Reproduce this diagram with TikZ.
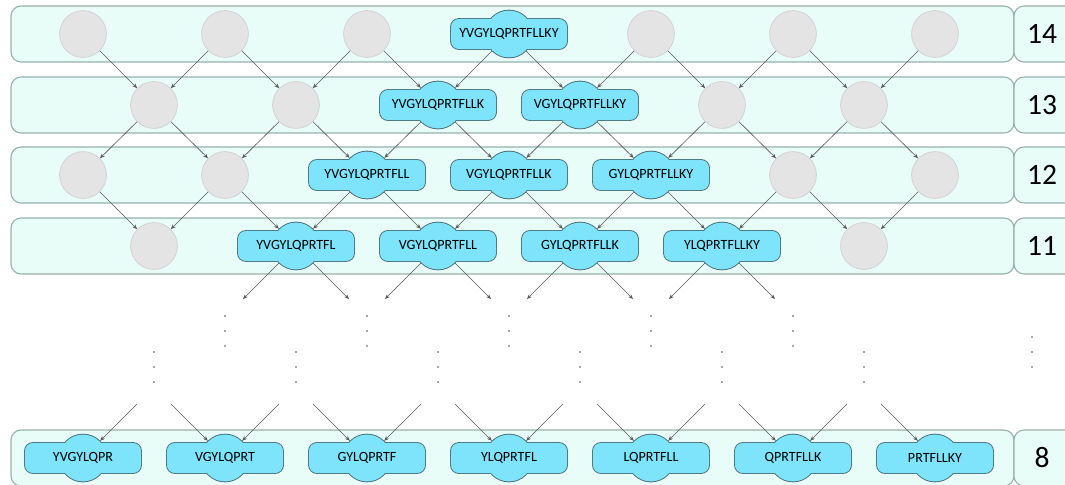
\documentclass[tikz,border=0pt]{standalone}
\usepackage{fontspec}
\setmainfont{Carlito}
\usepackage{tikz}
\usetikzlibrary{arrows.meta}
\definecolor{bandfill}{RGB}{232,252,248}
\definecolor{bandline}{RGB}{150,178,170}
\definecolor{pepfill}{RGB}{125,228,252}
\definecolor{pepline}{RGB}{72,110,118}
\definecolor{ghostfill}{RGB}{228,228,228}
\definecolor{ghostline}{RGB}{212,212,212}
\tikzset{
  band/.style={fill=bandfill, draw=bandline, line width=0.8pt, rounded corners=0.25cm},
  ghost/.style={circle, fill=ghostfill, draw=ghostline, line width=0.6pt, minimum size=1.17cm, inner sep=0pt},
  bump/.style={circle, minimum size=1.17cm, inner sep=0pt},
  pepbox/.style={rectangle, rounded corners=0.2cm, minimum width=2.9cm, minimum height=0.75cm, inner sep=0pt, font=\fontsize{10}{12}\selectfont},
  rowlab/.style={font=\fontsize{21}{25}\selectfont},
  link/.style={-{Stealth[length=3.5pt,width=2.8pt]}, draw=black!65, line width=0.45pt},
}
\newcommand{\pep}[4]{%
  \node[bump, draw=pepline, line width=1.3pt] (#1) at (#2,#3) {};
  \node[pepbox, draw=pepline, line width=1.3pt] at (#2,#3) {};
  \node[bump, fill=pepfill] at (#2,#3) {};
  \node[pepbox, fill=pepfill] at (#2,#3) {#4};
}

\begin{document}
\begin{tikzpicture}[x=0.025cm, y=-0.025cm]
    \clip (0,0) rectangle (1065,485);
    \useasboundingbox (0,0) rectangle (1065,485);

    % rows
    \foreach \r/\y in {14/6, 13/77, 12/147, 11/218, 8/430} {
        \draw[band] (11,\y) rectangle (1014,\y+56);
        \draw[band] (1014,\y) rectangle (1090,\y+56);
        \node[rowlab] (n\r) at (1042,\y+28) {\r};
    }

    % row 14
    \foreach \i in {0,1,2,4,5,6} \node[ghost] (r14-\i) at ({83+142*\i},34) {};
    \pep{r14-3}{509}{34}{YVGYLQPRTFLLKY}

    % row 13
    \foreach \i in {0,1,4,5} \node[ghost] (r13-\i) at ({154+142*\i},105) {};
    \pep{r13-2}{438}{105}{YVGYLQPRTFLLK}
    \pep{r13-3}{580}{105}{VGYLQPRTFLLKY}

    % row 12
    \foreach \i in {0,1,5,6} \node[ghost] (r12-\i) at ({83+142*\i},175) {};
    \pep{r12-2}{367}{175}{YVGYLQPRTFLL}
    \pep{r12-3}{509}{175}{VGYLQPRTFLLK}
    \pep{r12-4}{651}{175}{GYLQPRTFLLKY}

    % row 11
    \foreach \i in {0,5} \node[ghost] (r11-\i) at ({154+142*\i},246) {};
    \pep{r11-1}{296}{246}{YVGYLQPRTFL}
    \pep{r11-2}{438}{246}{VGYLQPRTFLL}
    \pep{r11-3}{580}{246}{GYLQPRTFLLK}
    \pep{r11-4}{722}{246}{YLQPRTFLLKY}

    % row 8
    \pep{r8-0}{83}{458}{YVGYLQPR}
    \pep{r8-1}{225}{458}{VGYLQPRT}
    \pep{r8-2}{367}{458}{GYLQPRTF}
    \pep{r8-3}{509}{458}{YLQPRTFL}
    \pep{r8-4}{651}{458}{LQPRTFLL}
    \pep{r8-5}{793}{458}{QPRTFLLK}
    \pep{r8-6}{935}{458}{PRTFLLKY}

    % links
    \foreach \i [evaluate=\i as \j using int(\i-1)] in {1,...,6} {
        \draw[link] (r14-\i) -- (r13-\j);
        \draw[link] (r12-\i) -- (r11-\j);
    }
    \foreach \i in {0,...,5} {
        \draw[link] (r14-\i) -- (r13-\i);
        \draw[link] (r12-\i) -- (r11-\i);
    }
    \foreach \i [evaluate=\i as \j using int(\i+1)] in {0,...,5} {
        \draw[link] (r13-\i) -- (r12-\i);
        \draw[link] (r13-\i) -- (r12-\j);
    }

    % open ends
    \foreach \i in {1,...,4} {
        \coordinate (t\i-l) at ({154+142*\i-53},299);
        \coordinate (t\i-r) at ({154+142*\i+53},299);
        \draw[link] (r11-\i) -- (t\i-l);
        \draw[link] (r11-\i) -- (t\i-r);
    }
    \foreach \i [evaluate=\i as \j using int(\i+1)] in {0,...,5} {
        \coordinate (s\i-l) at ({154+142*\i-17},404);
        \coordinate (s\i-r) at ({154+142*\i+17},404);
        \draw[link] (s\i-l) -- (r8-\i);
        \draw[link] (s\i-r) -- (r8-\j);
    }

    % dots
    \foreach \i in {1,...,5} \foreach \y in {316,331,346} \fill[black!70] ({83+142*\i},\y) circle (0.6pt);
    \foreach \i in {0,...,5} \foreach \y in {352,367,382} \fill[black!70] ({154+142*\i},\y) circle (0.6pt);
    \foreach \y in {337,352,367} \fill[black!70] (1032,\y) circle (0.6pt);
\end{tikzpicture}
\end{document}
